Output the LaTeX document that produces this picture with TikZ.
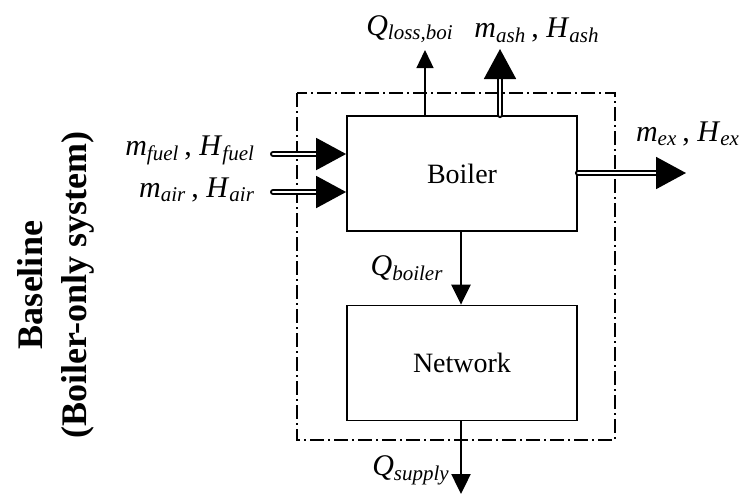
\documentclass[tikz,border=0pt]{standalone}
\usepackage{amsmath}
\usepackage{fontspec}
\setmainfont{Liberation Serif}
\usetikzlibrary{arrows.meta}

\newcommand{\flow}[2]{\textit{#1}$_{\text{\itshape #2}}$}

\tikzset{
  txt/.style={font=\fontsize{15}{17}\selectfont},
  unit/.style={draw, line width=0.9pt, font=\fontsize{14}{16}\selectfont,
    minimum width=115pt, minimum height=57.5pt},
  heat/.style={line width=1.2pt, -{Triangle[length=10pt,width=9.5pt]}},
  mass/.style={double, double distance=1.2pt, line width=0.9pt, line cap=round,
    -{Triangle[length=15pt,width=16pt]}},
  border/.style={line width=0.6pt, dash pattern=on 7pt off 2.2pt on 0.6pt off 2.2pt},
  title/.style={rotate=90, font=\fontsize{18}{20}\bfseries\selectfont}
}

\begin{document}
\begin{tikzpicture}[x=0.5pt,y=-0.5pt]
\useasboundingbox (0,0) rectangle (745,495);

% units
\node[unit] (boiler) at (462,173.5) {Boiler};
\node[unit] (network) at (462,363) {Network};

% system boundary
\draw[border] (297,93) rectangle (615,440);

% free ends
\coordinate (lossend) at (425,50);
\coordinate (ashend) at (500,49);
\coordinate (exend) at (686,173);
\coordinate (fuelin) at (273,154);
\coordinate (airin) at (273,192);
\coordinate (supplyend) at (461,494);

% streams
\draw[line width=0.7pt, -{Triangle[length=9pt,width=8.5pt]}] (boiler.north -| lossend) -- (lossend);
\draw[mass] (boiler.north -| ashend) -- (ashend);
\draw[mass] (boiler.east |- exend) -- (exend);
\draw[mass] (fuelin) -- (fuelin -| boiler.west);
\draw[mass] (airin) -- (airin -| boiler.west);
\draw[heat] (boiler.south -| supplyend) -- (network.north -| supplyend);
\draw[heat] (network.south -| supplyend) -- (supplyend);

% labels
\node[txt] (qloss) at (410,29) {\textit{Q}$_{\text{\itshape loss,boi}}$};
\node[txt] (mash) at (537,30) {\flow{m}{ash}\,, \flow{H}{ash}};
\node[txt, anchor=east] (mfuel) at (262,150) {\flow{m}{fuel}\,, \flow{H}{fuel}};
\node[txt, anchor=east] (mair) at (262,190) {\flow{m}{air}\,, \flow{H}{air}};
\node[txt] (mex) at (688,134) {\flow{m}{ex}\,, \flow{H}{ex}};
\node[txt] (qboiler) at (407,268) {\flow{Q}{boiler}};
\node[txt] (qsupply) at (411,470) {\flow{Q}{supply}};

% caption on the left
\node[title] (base) at (30,285) {Baseline};
\node[title] (kind) at (78,285) {(Boiler-only system)};
\end{tikzpicture}
\end{document}
